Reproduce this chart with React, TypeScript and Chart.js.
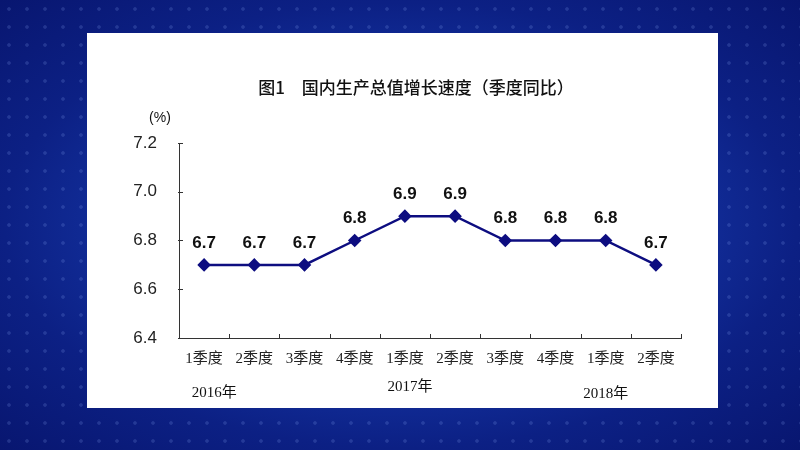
import React, { useEffect, useRef } from "react";
import { Chart, registerables } from "chart.js";

Chart.register(...registerables);

const categories = ["1季度", "2季度", "3季度", "4季度", "1季度", "2季度", "3季度", "4季度", "1季度", "2季度"];
const gdpGrowth = [6.7, 6.7, 6.7, 6.8, 6.9, 6.9, 6.8, 6.8, 6.8, 6.7];
const yearLabels = ["2016年", "2017年", "2018年"];
const yearAnchorIndex = [0.2, 4.1, 8.0];
const yTickMin = 6.4;
const yTickMax = 7.2;
const yTickStep = 0.2;
const titleText = "图1　国内生产总值增长速度（季度同比）";
const unitText = "(%)";

const LINE_COLOR = "#0d0d80";
const AXIS_COLOR = "#333333";
const SANS = "'Liberation Sans', Arial, 'Noto Sans CJK SC', sans-serif";
const SERIF = "'Liberation Serif', 'Times New Roman', 'Noto Sans CJK SC', serif";

const decorPlugin = {
  id: "decor",
  afterDraw(chart: any) {
    const ctx = chart.ctx;
    const area = chart.chartArea;
    const xs = chart.scales.x;
    const ys = chart.scales.y;
    ctx.save();
    ctx.strokeStyle = AXIS_COLOR;
    ctx.lineWidth = 1;
    const n = categories.length;
    for (let i = 0; i <= n; i++) {
      const x = Math.round(xs.getPixelForValue(i - 0.5)) + 0.5;
      ctx.beginPath();
      ctx.moveTo(x, area.bottom);
      ctx.lineTo(x, area.bottom - 4);
      ctx.stroke();
    }
    for (let v = yTickMin; v <= yTickMax + 1e-9; v += yTickStep) {
      const y = Math.round(ys.getPixelForValue(v)) + 0.5;
      ctx.beginPath();
      ctx.moveTo(area.left - 1, y);
      ctx.lineTo(area.left + 4, y);
      ctx.stroke();
    }
    const meta = chart.getDatasetMeta(0);
    ctx.fillStyle = "#111111";
    ctx.font = `bold 17px ${SANS}`;
    ctx.textAlign = "center";
    ctx.textBaseline = "middle";
    meta.data.forEach((pt: any, i: number) => {
      ctx.fillText(gdpGrowth[i].toFixed(1), pt.x, pt.y - 22);
    });
    ctx.font = `500 17px 'Noto Sans CJK SC', sans-serif`;
    ctx.fillStyle = "#111111";
    ctx.fillText(titleText, 416, 88);
    ctx.font = `14px ${SANS}`;
    ctx.fillText(unitText, area.left - 19, area.top - 25);
    ctx.font = `15px ${SERIF}`;
    const yearY = [393, 387, 394];
    yearLabels.forEach((t, i) => {
      ctx.fillText(t, xs.getPixelForValue(yearAnchorIndex[i]), yearY[i]);
    });
    ctx.restore();
  },
};

export default function App() {
  const ref = useRef<HTMLCanvasElement>(null);
  useEffect(() => {
    if (!ref.current) return;
    const chart = new Chart(ref.current, {
      type: "line",
      data: {
        labels: categories,
        datasets: [
          {
            data: gdpGrowth,
            borderColor: LINE_COLOR,
            backgroundColor: LINE_COLOR,
            borderWidth: 2.5,
            pointStyle: "rectRot",
            pointRadius: 5,
            pointHoverRadius: 5,
            tension: 0,
          },
        ],
      },
      options: {
        responsive: false,
        animation: false,
        events: [],
        layout: { padding: { left: 0, top: 143, right: 119, bottom: 82 } },
        plugins: { legend: { display: false }, tooltip: { enabled: false }, title: { display: false } },
        scales: {
          x: {
            type: "category",
            offset: true,
            grid: { display: false, drawTicks: false },
            border: { display: true, color: AXIS_COLOR, width: 1 },
            ticks: { color: "#222222", font: { family: SERIF, size: 15 }, padding: 12, maxRotation: 0, autoSkip: false },
            afterFit: (s: any) => { s.height = 30; },
          },
          y: {
            min: yTickMin,
            max: yTickMax,
            grid: { display: false, drawTicks: false },
            border: { display: true, color: AXIS_COLOR, width: 1 },
            ticks: {
              stepSize: yTickStep,
              color: "#222222",
              font: { family: SANS, size: 17 },
              padding: 22,
              callback: (v: any) => Number(v).toFixed(1),
            },
            afterFit: (s: any) => { s.width = 179; },
          },
        },
      },
      plugins: [decorPlugin],
    });
    return () => chart.destroy();
  }, []);

  return (
    <div
      style={{
        position: "fixed",
        left: 0,
        top: 0,
        width: 800,
        height: 450,
        overflow: "hidden",
        backgroundColor: "#0b1c78",
        backgroundImage:
          "radial-gradient(circle, rgba(150,180,255,0.18) 1.4px, transparent 2.2px), radial-gradient(ellipse at 50% 50%, #1f4ccc 0%, #1638aa 35%, #0c2084 70%, #081670 100%)",
        backgroundSize: "18px 18px, 100% 100%",
      }}
    >
      <div style={{ position: "absolute", left: 87, top: 33, width: 631, height: 375, background: "#ffffff" }} />
      <canvas ref={ref} width={800} height={450} style={{ position: "absolute", left: 0, top: 0 }} />
    </div>
  );
}
